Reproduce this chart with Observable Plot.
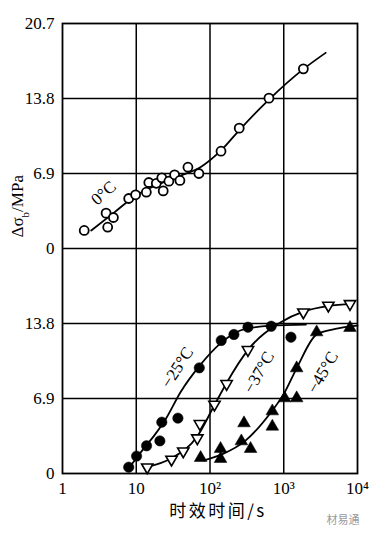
<!DOCTYPE html>
<html><head><meta charset="utf-8">
<script src="https://cdn.jsdelivr.net/npm/d3@7"></script>
<script src="https://cdn.jsdelivr.net/npm/@observablehq/plot@0.6"></script>
<style>body{margin:0;background:#fff}</style>
</head><body><div id="chart"></div>
<script>
// Axis ticks
const xTicks = [1, 10, 100, 1000, 10000];
const xTickLabels = ["1", "10", "10²", "10³", "10⁴"];
const yTicks = [0, 6.9, 13.8, 20.7, 27.6, 34.5, 41.4];
const yTickLabels = ["0", "6.9", "13.8", "0", "6.9", "13.8", "20.7"];
const panelSpan = 20.7; // each panel spans 0–20.7 MPa

// 0°C (upper panel): measured points
const t0 = [1.97, 3.9, 4.1, 4.9, 7.9, 9.8, 13.7, 14.8, 18.7, 22.2, 23.2, 27.7, 33.1, 39.1, 50.2, 70.7, 141, 249, 630, 1845];
const v0 = [1.66, 3.25, 1.96, 2.85, 4.6, 4.94, 5.18, 6.07, 6.0, 6.5, 5.3, 6.19, 6.78, 6.26, 7.48, 6.9, 8.95, 11.07, 13.83, 16.53];
// 0°C fitted curve
const t0c = [2.45, 5, 10, 20, 40, 75, 140, 250, 630, 1845, 3700];
const v0c = [1.66, 3.3, 4.9, 5.9, 6.7, 7.5, 9.0, 10.9, 13.7, 16.5, 18.0];

// −25°C (lower panel)
const t25 = [7.9, 10.1, 13.8, 20.9, 22.2, 36.7, 71.6, 142, 211, 327, 676, 1252];
const v25 = [0.58, 1.6, 2.55, 3.0, 4.72, 5.09, 9.72, 12.24, 12.79, 13.46, 13.55, 12.54];
const t25c = [8.8, 12, 18, 25, 40, 72, 140, 300, 676, 2000];
const v25c = [0.9, 2.1, 3.6, 5.0, 7.5, 9.9, 12.0, 13.3, 13.6, 13.7];

// −37°C (lower panel)
const t37 = [14.1, 30.1, 43.4, 67.3, 73, 115, 168, 327, 1845, 4027, 7906];
const v37 = [0.58, 1.29, 2.05, 3.25, 4.57, 6.35, 8.25, 11.38, 14.84, 15.46, 15.6];
const t37c = [14.1, 30, 67, 115, 170, 330, 900, 1845, 4000, 8500];
const v37c = [0.6, 1.4, 3.4, 6.3, 8.4, 11.4, 13.9, 14.9, 15.4, 15.6];

// −45°C (lower panel)
const t45 = [74.6, 139, 139, 266, 289, 355, 700, 700, 1028, 1497, 1497, 2793, 7906];
const v45 = [1.44, 2.27, 1.35, 2.97, 4.63, 2.27, 5.73, 4.32, 6.93, 6.93, 9.69, 13.0, 13.4];
const t45c = [82.6, 150, 300, 700, 1000, 1500, 2800, 5000, 10000];
const v45c = [1.2, 1.8, 3.0, 5.8, 7.3, 9.7, 12.8, 13.3, 13.6];

// Curve labels (data coordinates)
const labelText = ["0°C", "−25°C", "−37°C", "−45°C"];
const labelT = [3.6, 36, 460, 3370];
const labelV = [5.1, 9.75, 9.3, 9.3];
const labelPanel = ["top", "bottom", "bottom", "bottom"];
const labelAngle = [-42, -57, -60, -60];

const off = p => (p === "top" ? panelSpan : 0);
const rows = (ts, vs, panel) => ts.map((t, i) => ({t, y: vs[i] + off(panel)}));

const pts0 = rows(t0, v0, "top"), cur0 = rows(t0c, v0c, "top");
const pts25 = rows(t25, v25, "bottom"), cur25 = rows(t25c, v25c, "bottom");
const pts37 = rows(t37, v37, "bottom"), cur37 = rows(t37c, v37c, "bottom");
const pts45 = rows(t45, v45, "bottom"), cur45 = rows(t45c, v45c, "bottom");
const labels = labelText.map((s, i) => ({s, t: labelT[i], y: labelV[i] + off(labelPanel[i]), a: labelAngle[i]}));

const SERIF = "Liberation Serif";
const CJK = "Noto Sans CJK SC";
const lineOpts = {x: "t", y: "y", curve: "monotone-x", stroke: "black", strokeWidth: 1.8};

const chart = Plot.plot({
  width: 386,
  height: 540,
  marginTop: 23,
  marginBottom: 67,
  marginLeft: 62,
  marginRight: 29,
  x: {type: "log", domain: [1, 10000], ticks: xTicks, tickFormat: d => xTickLabels[xTicks.indexOf(d)], tickSize: 0, tickPadding: 8, label: null},
  y: {domain: [0, 41.4], ticks: yTicks, tickFormat: d => yTickLabels[yTicks.indexOf(d)], tickSize: 0, tickPadding: 8, label: null},
  marks: [
    Plot.ruleY(yTicks.slice(1, -1), {stroke: "black", strokeWidth: 1.5}),
    Plot.ruleX(xTicks.slice(1, -1), {stroke: "black", strokeWidth: 1.5}),
    Plot.frame({stroke: "black", strokeWidth: 1.8}),
    Plot.line(cur0, lineOpts),
    Plot.line(cur25, lineOpts),
    Plot.line(cur37, lineOpts),
    Plot.line(cur45, lineOpts),
    Plot.dot(pts0, {x: "t", y: "y", r: 4.5, fill: "white", stroke: "black", strokeWidth: 1.8}),
    Plot.dot(pts25, {x: "t", y: "y", r: 5.2, fill: "black", stroke: "black", strokeWidth: 0.5}),
    Plot.dot(pts37, {x: "t", y: "y", symbol: "triangle", rotate: 180, r: 4.2, fill: "white", stroke: "black", strokeWidth: 1.6}),
    Plot.dot(pts45, {x: "t", y: "y", symbol: "triangle", r: 4.7, fill: "black", stroke: "black", strokeWidth: 0.5}),
    Plot.text(labels, {x: "t", y: "y", text: "s", rotate: "a", fill: "black", fontSize: 17, fontFamily: SERIF}),
    Plot.text(["Δσb/MPa"], {frameAnchor: "left", dx: -45, dy: -11, rotate: -90, fontSize: 17, fontFamily: SERIF}),
    Plot.text(["时效时间/s"], {frameAnchor: "bottom", dy: 43, dx: 8, fontSize: 17, fontFamily: CJK}),
    Plot.text(["材易通"], {frameAnchor: "bottom-right", dx: 2, dy: 50, fontSize: 11, fill: "#9a9a9a", fontFamily: CJK})
  ]
});

// root font: serif everywhere, 17px
chart.setAttribute("font-family", SERIF);
chart.setAttribute("font-size", "17");
chart.style.setProperty("font-family", SERIF, "important");
chart.style.setProperty("background", "white");
const svg = d3.select(chart);
svg.selectAll("g").filter(function () { return this.getAttribute("font-family") && this.getAttribute("font-family") !== CJK; })
  .attr("font-family", SERIF);
svg.selectAll('g[aria-label$="tick label"]').attr("font-size", 17).attr("font-family", SERIF).attr("font-variant", null);
svg.selectAll("text").each(function () {
  const cjk = /[\u4e00-\u9fff]/.test(this.textContent);
  this.style.setProperty("font-family", cjk ? CJK : SERIF, "important");
});
svg.selectAll("text").filter(function () { return this.textContent === "时效时间/s"; })
  .attr("letter-spacing", "2.5");

// subscript "b" in the y-axis label
svg.selectAll("text").filter(function () { return this.textContent === "Δσb/MPa"; })
  .each(function () {
    const el = d3.select(this);
    el.text(null);
    el.append("tspan").text("Δσ");
    el.append("tspan").attr("baseline-shift", "sub").attr("font-size", "11").text("b");
    el.append("tspan").text("/MPa");
  });

document.getElementById("chart").appendChild(chart);
</script>
</body></html>
